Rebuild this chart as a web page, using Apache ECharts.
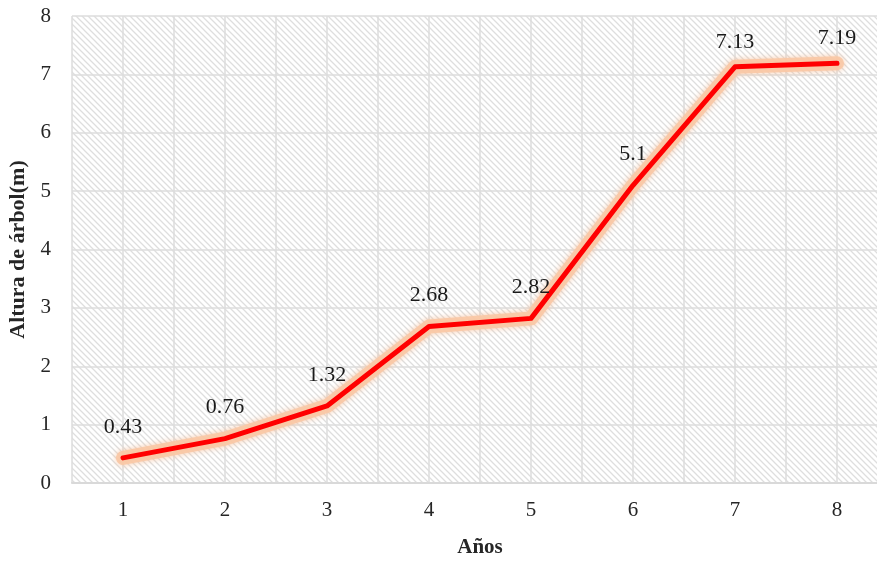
<!DOCTYPE html>
<html>
<head>
<meta charset="utf-8">
<script src="https://cdn.jsdelivr.net/npm/echarts@6/dist/echarts.min.js"></script>
<style>
  html, body { margin: 0; padding: 0; background: #fff; }
  #chart { width: 877px; height: 561px; }
</style>
</head>
<body>
<div id="chart"></div>
<script>
// Tree height by year
const years = [1, 2, 3, 4, 5, 6, 7, 8];
const heights = [0.43, 0.76, 1.32, 2.68, 2.82, 5.1, 7.13, 7.19];
const yTicks = [0, 1, 2, 3, 4, 5, 6, 7, 8];

const xTitle = 'Años';
const yTitle = 'Altura de árbol(m)';

// Diagonal hatch tile for the plot background
function hatchTile() {
  const s = 6;
  const c = document.createElement('canvas');
  c.width = s; c.height = s;
  const g = c.getContext('2d');
  g.fillStyle = '#ffffff';
  g.fillRect(0, 0, s, s);
  g.strokeStyle = '#dedede';
  g.lineWidth = 1.3;
  g.beginPath();
  g.moveTo(-1, -1); g.lineTo(s + 1, s + 1);
  g.moveTo(-1 - s, -1); g.lineTo(1, s + 1);
  g.moveTo(s - 1, -1); g.lineTo(2 * s + 1, s + 1);
  g.stroke();
  return c;
}

const points = years.map((y, i) => [y, heights[i]]);
const font = '"Liberation Serif", "Times New Roman", serif';

const chart = echarts.init(document.getElementById('chart'), null, { renderer: 'canvas' });
chart.setOption({
  animation: false,
  textStyle: { fontFamily: font },
  grid: {
    left: 72, top: 16, width: 816, height: 467,
    outerBoundsMode: 'none',
    containLabel: false,
    show: true,
    borderWidth: 0,
    backgroundColor: { image: hatchTile(), repeat: 'repeat' }
  },
  xAxis: {
    type: 'value',
    min: 0.5, max: 8.5, interval: 0.5,
    name: xTitle,
    nameLocation: 'middle',
    nameGap: 54,
    nameTextStyle: { fontFamily: font, fontWeight: 'bold', fontSize: 21, color: '#262626' },
    axisLine: { show: true, lineStyle: { color: '#d9d9d9', width: 2 } },
    axisTick: { show: false },
    axisLabel: {
      margin: 17,
      fontFamily: font, fontSize: 21, color: '#262626',
      formatter: v => (years.indexOf(v) >= 0 ? String(v) : '')
    },
    splitLine: { show: true, lineStyle: { color: '#dcdcdc', width: 1.5 } }
  },
  yAxis: {
    type: 'value',
    min: yTicks[0], max: yTicks[yTicks.length - 1], interval: 1,
    name: yTitle,
    nameLocation: 'middle',
    nameGap: 40,
    nameTextStyle: { fontFamily: font, fontWeight: 'bold', fontSize: 22, color: '#262626' },
    axisLine: { show: false },
    axisTick: { show: false },
    axisLabel: { margin: 21, fontFamily: font, fontSize: 21, color: '#262626' },
    splitLine: { show: true, lineStyle: { color: '#dcdcdc', width: 1.5 } }
  },
  series: [
    {
      // soft glow beneath the line
      type: 'line',
      data: points,
      symbol: 'none',
      silent: true,
      z: 2,
      lineStyle: {
        color: 'rgba(249,200,165,0.9)',
        width: 14,
        shadowColor: 'rgba(248,190,150,0.9)',
        shadowBlur: 6,
        cap: 'round',
        join: 'round'
      }
    },
    {
      type: 'line',
      symbol: 'circle',
      symbolSize: 2,
      showSymbol: true,
      itemStyle: { color: '#ff0000' },
      z: 3,
      lineStyle: { color: '#ff0000', width: 5, cap: 'round', join: 'round' },
      label: {
        show: true,
        position: 'top',
        distance: 19,
        fontFamily: font,
        fontSize: 22,
        color: '#1a1a1a',
        formatter: p => String(p.value[1])
      },
      labelLayout: { hideOverlap: false },
      data: points.map((p, i) => i >= 6
        ? { value: p, label: { distance: 13 } }
        : { value: p })
    }
  ]
});
</script>
</body>
</html>
